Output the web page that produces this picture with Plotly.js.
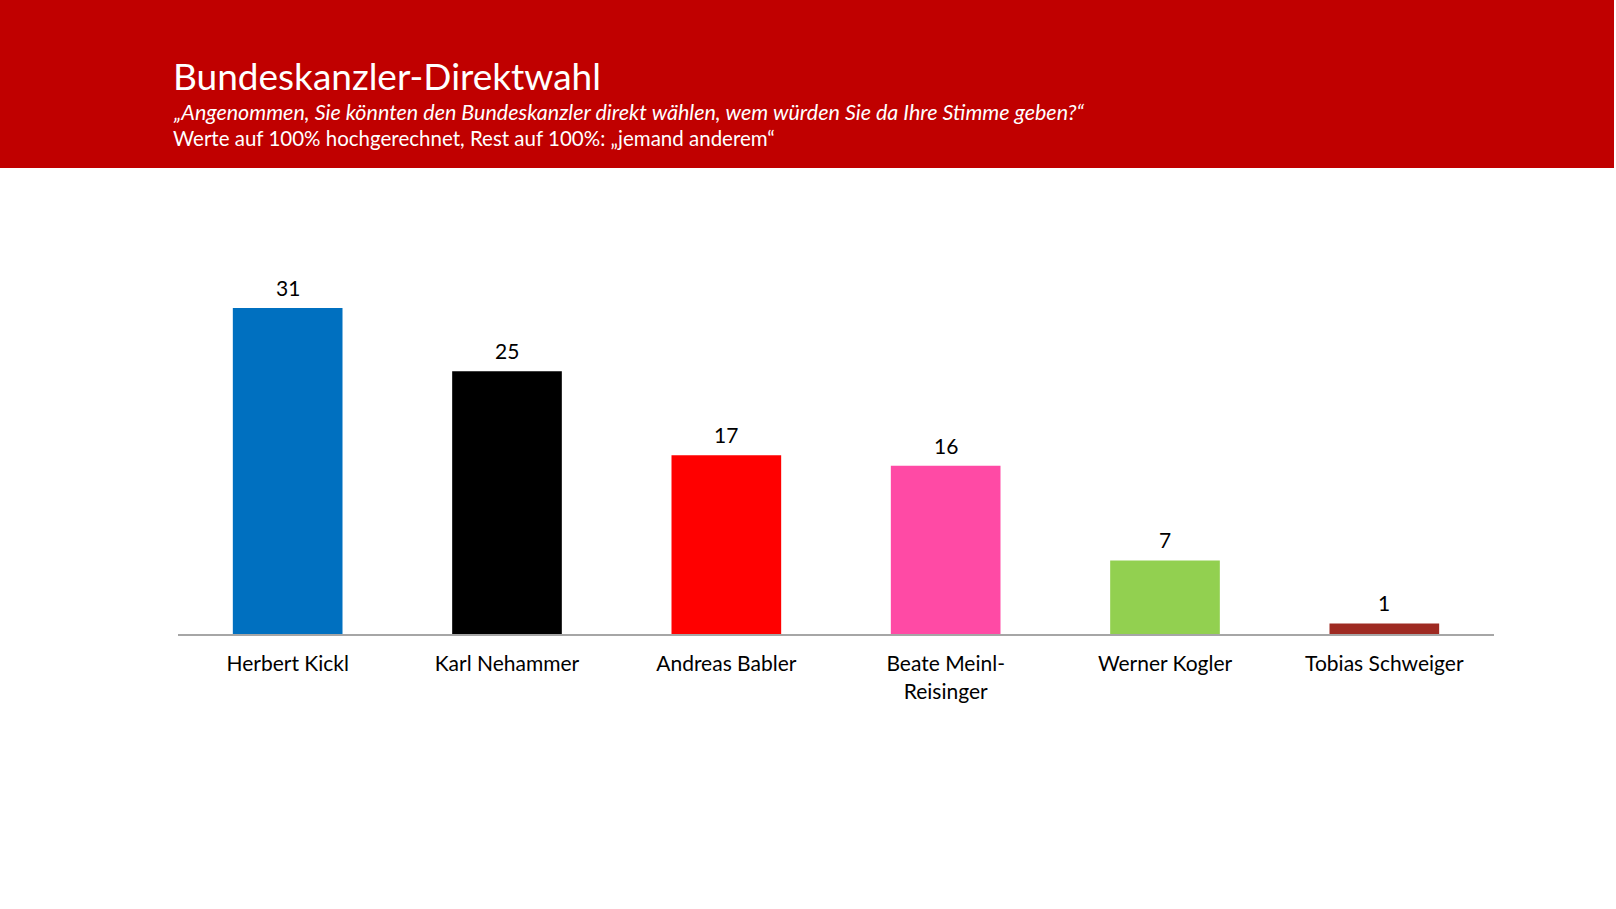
<!DOCTYPE html>
<html>
<head>
<meta charset="utf-8">
<script src="https://cdn.plot.ly/plotly-3.0.1.min.js"></script>
<style>
  html, body { margin: 0; padding: 0; background: #fff; }
  #chart { width: 1616px; height: 909px; }
</style>
</head>
<body>
<div id="chart"></div>
<script>
// Umfragewerte Bundeskanzler-Direktwahl
var kandidaten = ['Herbert Kickl', 'Karl Nehammer', 'Andreas Babler', 'Beate Meinl-<br>Reisinger', 'Werner Kogler', 'Tobias Schweiger'];
var werte = [31, 25, 17, 16, 7, 1];
var farben = ['#0070C0', '#000000', '#FF0000', '#FF4AA5', '#92D050', '#9E2A22'];

var titel = 'Bundeskanzler-Direktwahl';
var frage = '„Angenommen, Sie könnten den Bundeskanzler direkt wählen, wem würden Sie da Ihre Stimme geben?“';
var hinweis = 'Werte auf 100% hochgerechnet, Rest auf 100%: „jemand anderem“';

var schrift = 'Lato, "Open Sans", sans-serif';

// plotbereich in pixeln: links 178, unten bei 634, 1316 breit, 368 hoch
var pw = 1316, ph = 368;

var data = [{
    type: 'bar',
    x: kandidaten,
    y: werte,
    marker: { color: farben },
    hoverinfo: 'x+y'
}];

// werte ueber den balken
var werteLabels = werte.map(function (w, i) {
    return {
        x: kandidaten[i], y: w,
        text: String(w),
        xref: 'x', yref: 'y',
        yanchor: 'bottom',
        yshift: 6,
        showarrow: false,
        font: { family: schrift, size: 21, color: '#000' }
    };
});

var layout = {
    width: 1616,
    height: 909,
    paper_bgcolor: '#fff',
    plot_bgcolor: '#fff',
    margin: { l: 178, r: 1616 - 178 - pw, t: 909 - 275 - ph, b: 275 },
    showlegend: false,
    bargap: 0.5,
    font: { family: schrift, color: '#000' },
    title: {
        text: titel,
        x: 173 / 1616,
        xanchor: 'left',
        y: 1 - 77 / 909,
        yanchor: 'middle',
        font: { family: schrift, size: 37, color: '#fff' }
    },
    xaxis: {
        showline: true,
        linecolor: '#a6a6a6',
        linewidth: 2,
        ticks: '',
        showgrid: false,
        tickfont: { family: schrift, size: 21, color: '#000' },
        ticklabelstandoff: 10,
        fixedrange: true
    },
    yaxis: {
        range: [0, 35],
        visible: false,
        showgrid: false,
        zeroline: false,
        fixedrange: true
    },
    shapes: [{
        type: 'rect',
        xref: 'paper', yref: 'paper',
        x0: -178 / pw, x1: (1614 - 178) / pw,
        y0: (634 - 168) / ph, y1: (634 + 10) / ph,
        fillcolor: '#C00000',
        line: { width: 0 },
        layer: 'below'
    }],
    annotations: [{
        text: '<i>' + frage + '</i>',
        xref: 'paper', yref: 'paper',
        x: (171 - 178) / pw,
        y: (634 - 112) / ph,
        xanchor: 'left', yanchor: 'middle',
        showarrow: false,
        font: { family: schrift, size: 21.5, color: '#fff' }
    }, {
        text: hinweis,
        xref: 'paper', yref: 'paper',
        x: (171 - 178) / pw,
        y: (634 - 138) / ph,
        xanchor: 'left', yanchor: 'middle',
        showarrow: false,
        font: { family: schrift, size: 20.5, color: '#fff' }
    }].concat(werteLabels)
};

Plotly.newPlot('chart', data, layout, { displayModeBar: false, staticPlot: true });
</script>
</body>
</html>
